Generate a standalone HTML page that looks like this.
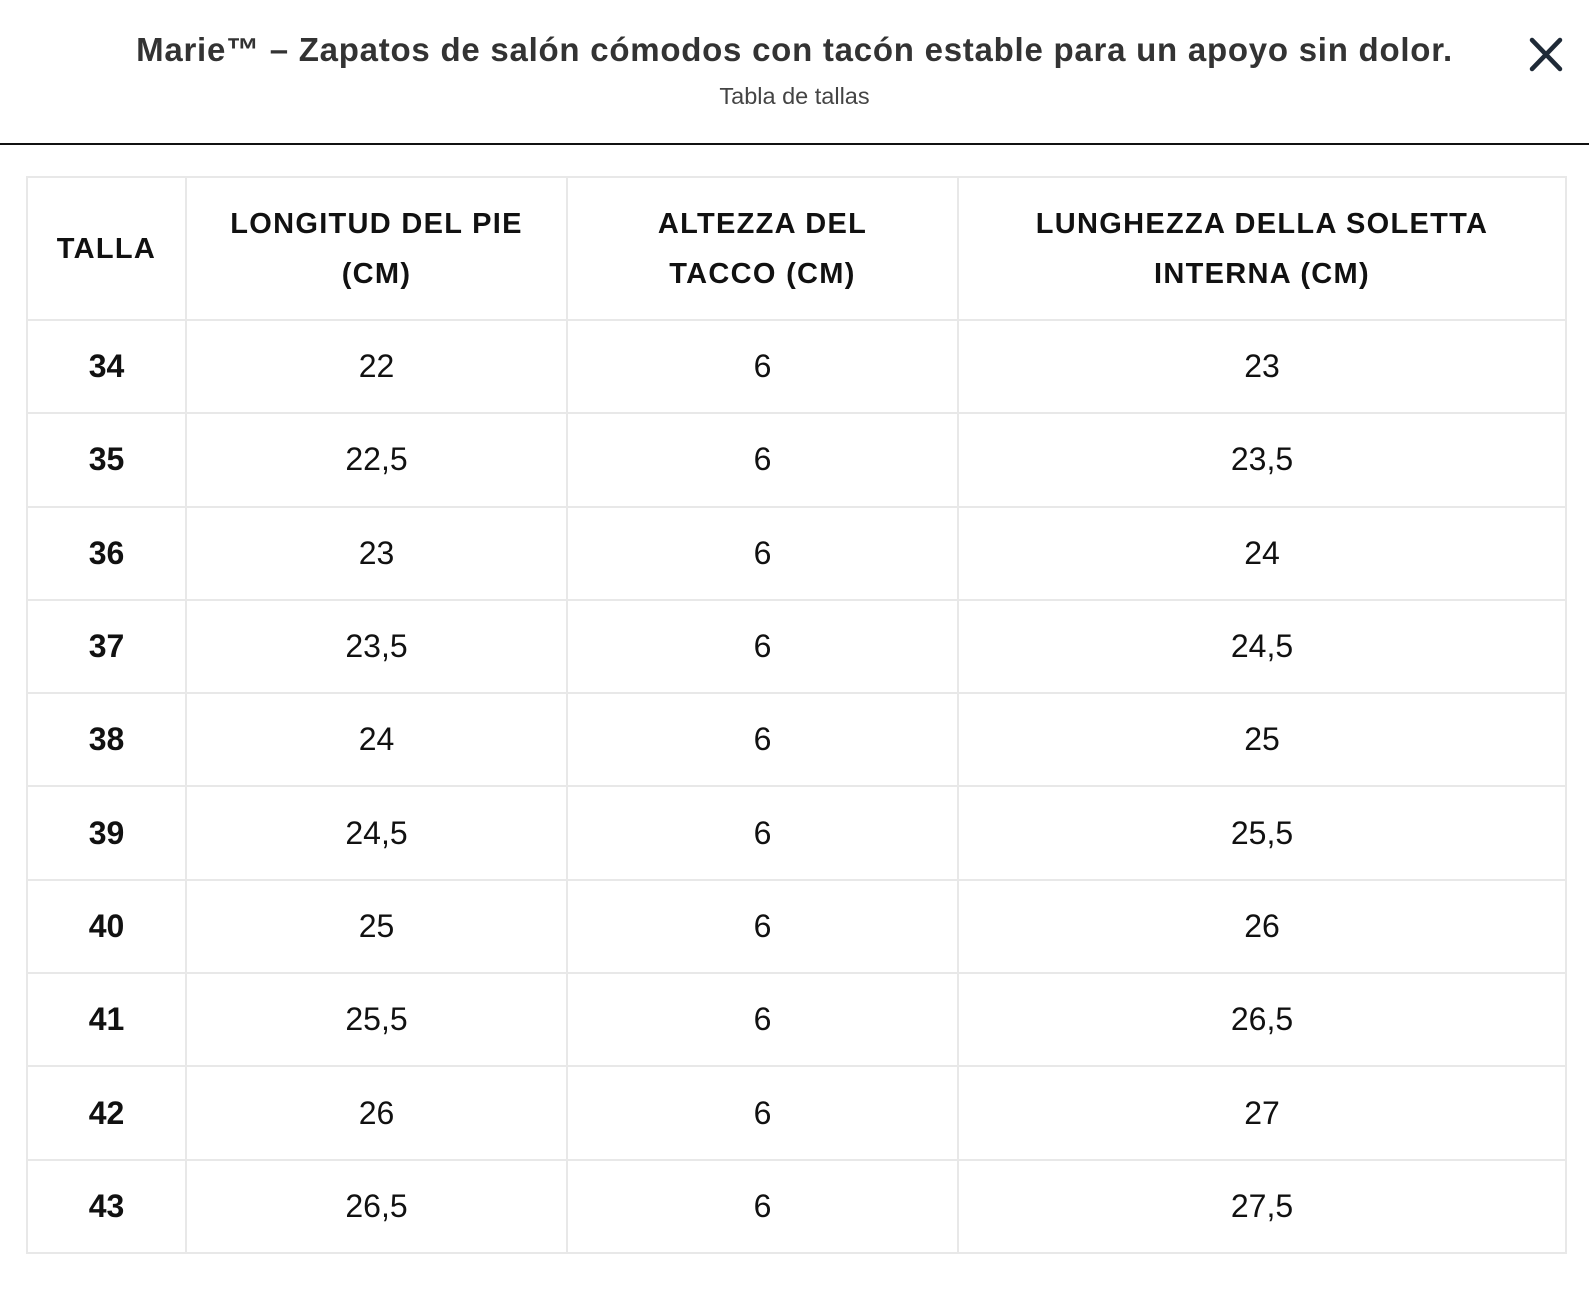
<!DOCTYPE html>
<html><head><meta charset="utf-8"><style>
*{margin:0;padding:0;box-sizing:border-box}
body{width:1589px;height:1311px;background:#fff;font-family:"Liberation Sans",sans-serif;position:relative;overflow:hidden}
.title{position:absolute;left:0;width:1589px;top:30px;text-align:center;font-size:33px;color:#333;font-weight:bold;letter-spacing:0.75px;line-height:40px}
.sub{position:absolute;left:0;width:1589px;top:83px;text-align:center;font-size:23.5px;color:#444;line-height:26px}
.hr{position:absolute;left:0;top:143px;width:1589px;height:2px;background:#111}
table{position:absolute;left:26px;top:176px;width:1539px;border-collapse:collapse;table-layout:fixed}
td,th{border:2px solid #e8e8e8;text-align:center;color:#111}
th{height:143px;font-size:29px;font-weight:bold;line-height:50px;letter-spacing:1.3px}
td{height:93.3px;font-size:32px}
td:first-child{font-weight:bold}
</style></head><body>
<div class="title">Marie™ – Zapatos de salón cómodos con tacón estable para un apoyo sin dolor.</div>
<div class="sub">Tabla de tallas</div>
<svg style="position:absolute;left:1529px;top:37px" width="34" height="35" viewBox="0 0 34 35"><path d="M3 3L31 32M31 3L3 32" stroke="#1f2a37" stroke-width="4.5" stroke-linecap="round"/></svg>
<div class="hr"></div>
<table>
<colgroup><col style="width:159px"><col style="width:381px"><col style="width:391px"><col style="width:608px"></colgroup>
<tr><th>TALLA</th><th>LONGITUD DEL PIE<br>(CM)</th><th>ALTEZZA DEL<br>TACCO (CM)</th><th>LUNGHEZZA DELLA SOLETTA<br>INTERNA (CM)</th></tr>
<tr><td>34</td><td>22</td><td>6</td><td>23</td></tr>
<tr><td>35</td><td>22,5</td><td>6</td><td>23,5</td></tr>
<tr><td>36</td><td>23</td><td>6</td><td>24</td></tr>
<tr><td>37</td><td>23,5</td><td>6</td><td>24,5</td></tr>
<tr><td>38</td><td>24</td><td>6</td><td>25</td></tr>
<tr><td>39</td><td>24,5</td><td>6</td><td>25,5</td></tr>
<tr><td>40</td><td>25</td><td>6</td><td>26</td></tr>
<tr><td>41</td><td>25,5</td><td>6</td><td>26,5</td></tr>
<tr><td>42</td><td>26</td><td>6</td><td>27</td></tr>
<tr><td>43</td><td>26,5</td><td>6</td><td>27,5</td></tr>
</table>
</body></html>
